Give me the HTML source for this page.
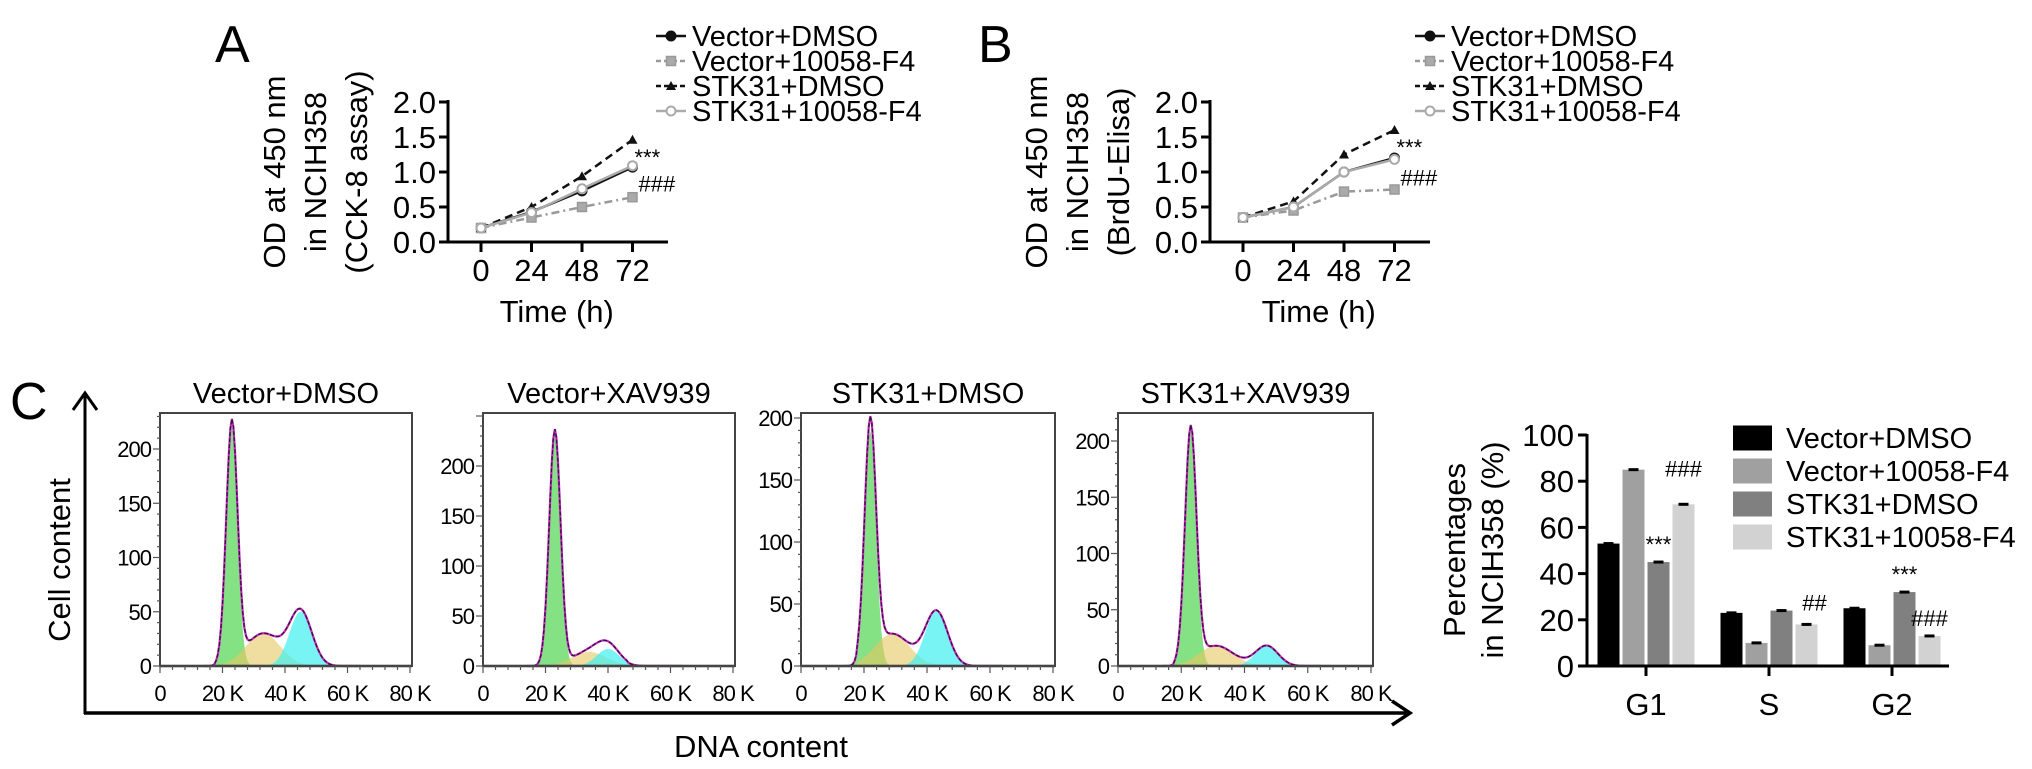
<!DOCTYPE html>
<html><head><meta charset="utf-8"><style>
html,body{margin:0;padding:0;background:#fff;}
svg{display:block;font-family:"Liberation Sans",Arial,sans-serif;}
</style></head><body>
<svg id="fig" width="2032" height="769" viewBox="0 0 2032 769" xmlns="http://www.w3.org/2000/svg">
<rect width="2032" height="769" fill="#fff"/>
<g id="gA"></g>
<g id="gB"></g>
<g id="gC"></g>
<g id="gD"></g>
</svg>
<script>
// ---------- data ----------
const timeLabels = ["0","24","48","72"];
const seriesNames = ["Vector+DMSO","Vector+10058-F4","STK31+DMSO","STK31+10058-F4"];
const cckVecDmso = [0.2,0.43,0.73,1.07];
const cckVecF4 = [0.2,0.35,0.5,0.64];
const cckStkDmso = [0.2,0.5,0.94,1.46];
const cckStkF4 = [0.2,0.42,0.76,1.09];
const brduVecDmso = [0.35,0.5,1.0,1.2];
const brduVecF4 = [0.35,0.45,0.72,0.75];
const brduStkDmso = [0.35,0.58,1.25,1.6];
const brduStkF4 = [0.35,0.5,1.0,1.18];
const odTicks = ["0.0","0.5","1.0","1.5","2.0"];
const phaseLabels = ["G1","S","G2"];
const pctVecDmso = [53,23,25];
const pctVecF4 = [85,10,9];
const pctStkDmso = [45,24,32];
const pctStkF4 = [70,18,13];
const pctTicks = ["0","20","40","60","80","100"];
const histTitles = ["Vector+DMSO","Vector+XAV939","STK31+DMSO","STK31+XAV939"];
const histG1Height = [222,235,190,208];
const histG1Center = [23,23,22,23];
const histSHeight = [30,14,26,18];
const histSCenter = [33,34,29,31];
const histG2Height = [50,17,44,18];
const histG2Center = [45,40,43,47];
const histTicksY = ["0","50","100","150","200"];
const histTicksX = ["0","20 K","40 K","60 K","80 K"];

const NS="http://www.w3.org/2000/svg";
function mk(parent,tag,attrs,text){const e=document.createElementNS(NS,tag);for(const k in attrs)e.setAttribute(k,attrs[k]);if(text!==undefined)e.textContent=text;parent.appendChild(e);return e;}

// ---------- line charts ----------
const styles=[
 {stroke:"#111",dash:"",marker:"circle",fill:"#111"},
 {stroke:"#999",dash:"8,4,2,4",marker:"square",fill:"#aaa"},
 {stroke:"#111",dash:"8,5",marker:"tri",fill:"#111"},
 {stroke:"#aaa",dash:"",marker:"circle",fill:"#fff"}];
function marker(g,st,x,y,name){
 let m;
 if(st.marker==="circle") m=mk(g,"circle",{cx:x,cy:y,r:4.5,fill:st.fill,stroke:st.stroke,"stroke-width":2});
 else if(st.marker==="square") m=mk(g,"rect",{x:x-4.5,y:y-4.5,width:9,height:9,fill:st.fill,stroke:st.stroke,"stroke-width":1.5});
 else m=mk(g,"path",{d:`M${x},${y-5}L${x+5},${y+4}L${x-5},${y+4}Z`,fill:st.fill});
 
 
}
function lineChart(g,ax,letterX,titleLast,series,legX){
 const y0=242, ppu=70, x0=ax+33, step=50.5;
 const X=i=>x0+i*step, Y=v=>y0-v*ppu;
 const L=mk(g,"text",{x:letterX,y:62,"font-size":52},ax<800?"A":"B");
 
 
 mk(g,"line",{x1:ax,y1:Y(2)-2,x2:ax,y2:y0,stroke:"#000","stroke-width":3});
 mk(g,"line",{x1:ax-1.5,y1:y0,x2:ax+220,y2:y0,stroke:"#000","stroke-width":3});
 odTicks.forEach((t,i)=>{const v=parseFloat(t);
  mk(g,"line",{x1:ax-9,y1:Y(v),x2:ax,y2:Y(v),stroke:"#000","stroke-width":3});
  const tx=mk(g,"text",{x:ax-12,y:Y(v)+11,"font-size":31,"text-anchor":"end"},t);
  
  });
 timeLabels.forEach((t,i)=>{
  mk(g,"line",{x1:X(i),y1:y0,x2:X(i),y2:y0+10,stroke:"#000","stroke-width":3});
  const tx=mk(g,"text",{x:X(i),y:281,"font-size":31,"text-anchor":"middle"},t);
  
  });
 const xt=mk(g,"text",{x:X(1.5),y:322,"font-size":31,"text-anchor":"middle"},"Time (h)");
 
 
 const titles=["OD at 450 nm","in NCIH358",titleLast];
 [174,133,92].forEach((off,i)=>{
  const t=mk(g,"text",{x:0,y:0,"font-size":31,"text-anchor":"middle",transform:`translate(${ax-off+11},172) rotate(-90)`},titles[i]);
  
  });
 series.forEach((vals,s)=>{const st=styles[s];
  const p=mk(g,"polyline",{points:vals.map((v,i)=>X(i)+","+Y(v)).join(" "),fill:"none",stroke:st.stroke,"stroke-width":2.5,"stroke-dasharray":st.dash});
  
  
  vals.forEach((v,i)=>marker(g,st,X(i),Y(v),'point'));});
 const a=mk(g,"text",{x:X(3)+2,y:Y(series[2][3])+25,"font-size":22},"***");
 
 
 const b=mk(g,"text",{x:X(3)+6,y:Y(series[3][3])+26,"font-size":22},"###");
 
 
 [36,61,86,111].forEach((ry,i)=>{const st=styles[i];
  mk(g,"line",{x1:legX,y1:ry,x2:legX+30,y2:ry,stroke:st.stroke,"stroke-width":2.5,"stroke-dasharray":st.dash?"5,3":""});
  marker(g,st,legX+15,ry,'legend-marker');
  const t=mk(g,"text",{x:legX+36,y:ry+10,"font-size":29},seriesNames[i]);
  
  });
}
lineChart(document.getElementById("gA"),448,215,"(CCK-8 assay)",[cckVecDmso,cckVecF4,cckStkDmso,cckStkF4],656);
lineChart(document.getElementById("gB"),1210,978,"(BrdU-Elisa)",[brduVecDmso,brduVecF4,brduStkDmso,brduStkF4],1415);

// ---------- histograms ----------
const gC=document.getElementById("gC");
const letterC=mk(gC,"text",{x:10,y:419,"font-size":52},"C");


mk(gC,"line",{x1:85,y1:714,x2:85,y2:396,stroke:"#000","stroke-width":3});
mk(gC,"path",{d:"M73,410 L85,393 L97,410",fill:"none",stroke:"#000","stroke-width":3});
mk(gC,"line",{x1:84,y1:713,x2:1408,y2:713,stroke:"#000","stroke-width":3.5});
mk(gC,"path",{d:"M1392,701 L1410,713 L1392,725",fill:"none",stroke:"#000","stroke-width":3.5});
const cc=mk(gC,"text",{x:0,y:0,"font-size":31,"text-anchor":"middle",transform:"translate(70,560) rotate(-90)"},"Cell content");


const dc=mk(gC,"text",{x:761,y:757,"font-size":31,"text-anchor":"middle"},"DNA content");


const boxL=[160,483,801,1118], boxR=[412,735,1055,1373], ppuH=[1.085,1.0,1.24,1.125];
const hTop=413, hBase=666;
function gauss(x,c,h,s){return h*Math.exp(-0.5*((x-c)/s)**2);}
histTitles.forEach((title,p)=>{
 const g=mk(gC,"g",{});
 
 
 const L=boxL[p], R=boxR[p], W=R-L;
 const X=k=>L+k/80*(W-2), Y=v=>hBase-v*ppuH[p];
 const t=mk(g,"text",{x:(L+R)/2,y:403,"font-size":29,"text-anchor":"middle"},title);
 
 
 const ks=[];for(let k=14;k<=64;k+=0.5)ks.push(k);
 const g1=k=>gauss(k,histG1Center[p],histG1Height[p],1.8);
 const sC=k=>(k<18||k>histG2Center[p]+6)?0:histSHeight[p]*Math.exp(-0.5*((k-histSCenter[p])/5.5)**2);
 const g2=k=>gauss(k,histG2Center[p],histG2Height[p],3.6);
 function area(fn,fill,op,name){
  const pts=ks.map(k=>X(k)+","+Y(fn(k))).join(" ");
  const a=mk(g,"polygon",{points:`${X(14)},${hBase} ${pts} ${X(64)},${hBase}`,fill:fill,"fill-opacity":op,stroke:"none"});
  
  
 }
 area(g1,"#6fdc6f",0.85,"g1-area");
 area(sC,"#e6c860",0.6,"s-area");
 area(g2,"#3ff0f0",0.7,"g2-area");
 const tot=ks.map(k=>X(k)+","+Y(g1(k)+sC(k)+g2(k))).join(" ");
 const m=mk(g,"polyline",{points:tot,fill:"none",stroke:"#d020d0","stroke-width":2.2});
 
 
 const d=mk(g,"polyline",{points:tot,fill:"none",stroke:"#222","stroke-width":1.3,"stroke-dasharray":"4,2"});
 
 
 mk(g,"line",{x1:L,y1:hBase,x2:R,y2:hBase,stroke:"#222","stroke-width":2.5});
 mk(g,"rect",{x:L,y:hTop,width:W,height:hBase-hTop,fill:"none",stroke:"#444","stroke-width":2});
 for(let v=0;v*ppuH[p]<=hBase-hTop;v+=10) mk(g,"line",{x1:L-(v%50?3:7),y1:Y(v),x2:L,y2:Y(v),stroke:"#555","stroke-width":1.2});
 histTicksY.forEach(tl=>{const v=+tl;
  const tx=mk(g,"text",{x:L-9,y:Y(v)+8,"font-size":22,"text-anchor":"end","letter-spacing":"-1"},tl);
  
  });
 for(let k=0;k<=80;k+=4) mk(g,"line",{x1:X(k),y1:hBase,x2:X(k),y2:hBase+(k%20?4:7),stroke:"#555","stroke-width":1.2});
 histTicksX.forEach((tl,i)=>{
  const tx=mk(g,"text",{x:X(i*20),y:701,"font-size":22,"text-anchor":"middle","letter-spacing":"-1"},tl);
  
  });
});

// ---------- bar chart ----------
const gD=document.getElementById("gD");
const bAx=1587, b0=666, bppu=2.31;
const BY=v=>b0-v*bppu;
const groupX=i=>1646+i*123;
const barColors=["#000","#a0a0a0","#808080","#d2d2d2"];
const barSeries=[pctVecDmso,pctVecF4,pctStkDmso,pctStkF4];
barSeries.forEach((vals,s)=>{vals.forEach((v,i)=>{
 const cx=groupX(i)+(s-1.5)*25;
 const r=mk(gD,"rect",{x:cx-11,y:BY(v),width:22,height:b0-BY(v),fill:barColors[s]});
 
 
 mk(gD,"line",{x1:cx-5,y1:BY(v),x2:cx+5,y2:BY(v),stroke:"#000","stroke-width":3});});});
mk(gD,"line",{x1:bAx,y1:BY(100)-1,x2:bAx,y2:b0,stroke:"#000","stroke-width":3});
mk(gD,"line",{x1:bAx-1.5,y1:b0,x2:1949,y2:b0,stroke:"#000","stroke-width":3});
pctTicks.forEach(t=>{const v=+t;
 mk(gD,"line",{x1:bAx-9,y1:BY(v),x2:bAx,y2:BY(v),stroke:"#000","stroke-width":3});
 const tx=mk(gD,"text",{x:bAx-13,y:BY(v)+11,"font-size":31,"text-anchor":"end"},t);
 
 });
phaseLabels.forEach((t,i)=>{
 mk(gD,"line",{x1:groupX(i),y1:b0,x2:groupX(i),y2:b0+10,stroke:"#000","stroke-width":3});
 const tx=mk(gD,"text",{x:groupX(i),y:715,"font-size":31,"text-anchor":"middle"},t);
 
 });
["Percentages","in NCIH358 (%)"].forEach((t,i)=>{
 const tx=mk(gD,"text",{x:0,y:0,"font-size":31,"text-anchor":"middle",transform:`translate(${1465+i*38},550) rotate(-90)`},t);
 
 });
[[groupX(0)+12.5,pctStkDmso[0],"***"],[groupX(0)+37.5,pctStkF4[0],"###"],[groupX(1)+37.5,pctStkF4[1],"##"],[groupX(2)+12.5,pctStkDmso[2],"***"],[groupX(2)+37.5,pctStkF4[2],"###"]].forEach(a=>{
 const tx=mk(gD,"text",{x:a[0]+(a[2]==="##"?8:0),y:BY(a[1])-(a[2]==="##"?14:10)-(a[2]==="###"&&a[1]>50?18:0),"font-size":22,"text-anchor":"middle"},a[2]);
 
 });
[438,471,504,537].forEach((ry,i)=>{
 const r=mk(gD,"rect",{x:1733,y:ry-12.5,width:39,height:25,fill:barColors[i]});
 
 
 const t=mk(gD,"text",{x:1786,y:ry+10,"font-size":29},seriesNames[i]);
 
 });
</script>
</body></html>
